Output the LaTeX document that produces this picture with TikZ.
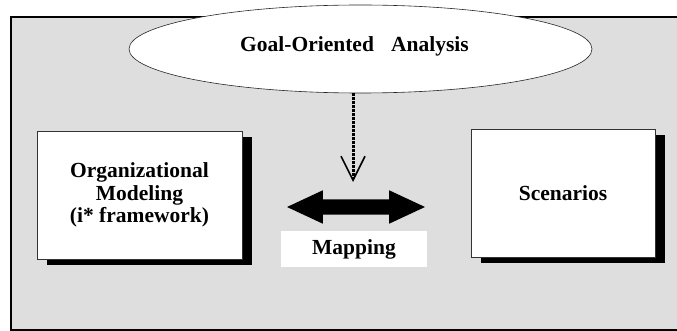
\documentclass[tikz,border=0pt]{standalone}
\usepackage{fontspec}
\setmainfont{Liberation Serif}
\usepackage{tikz}
\usetikzlibrary{shapes.geometric,shapes.arrows,shadows,arrows.meta}

\tikzset{
  lbl/.style={font=\fontsize{21.5}{25.5}\selectfont\bfseries, align=center},
  model box/.style={lbl, draw=black!80, line width=0.8pt, fill=white,
    drop shadow={shadow xshift=10pt, shadow yshift=-6pt, fill=black, opacity=1}},
}

\begin{document}
\begin{tikzpicture}[x=1pt, y=-1pt]
      \useasboundingbox (0,0) rectangle (677,331);
      \draw[line width=1.7pt, fill=black!13] (11,17) rectangle (679,330);

      \node[lbl, ellipse, draw=black!85, line width=0.6pt, fill=white,
            minimum width=463pt, minimum height=88pt, inner sep=0pt] (goal) at (360.5,49)
          {\hspace*{-12pt}\raisebox{9pt}{Goal-Oriented\hspace{0.55em} Analysis}};
      \node[model box, minimum width=205pt, minimum height=128pt] (org) at (139.5,195)
          {\raisebox{-4pt}{\shortstack{Organizational\\Modeling\\(i* framework)}}};
      \node[model box, minimum width=184pt, minimum height=128pt] (scen) at (563,193)
          {Scenarios};
      \node[shape=double arrow, fill=black, inner xsep=0pt, inner ysep=7.5pt,
            minimum height=138pt, double arrow head extend=9pt,
            double arrow tip angle=50] (maparrow) at (356,207) {};
      \node[lbl, fill=white, minimum width=146pt, minimum height=36pt] (map) at (354,249)
          {Mapping};

      \coordinate (vtip) at (353,182);
      \draw[line width=3pt, dash pattern=on 2.5pt off 1.5pt,
            -{Straight Barb[length=24pt, width=24pt, line width=1.6pt]}]
        (goal.south -| vtip) -- (vtip);
\end{tikzpicture}
\end{document}
